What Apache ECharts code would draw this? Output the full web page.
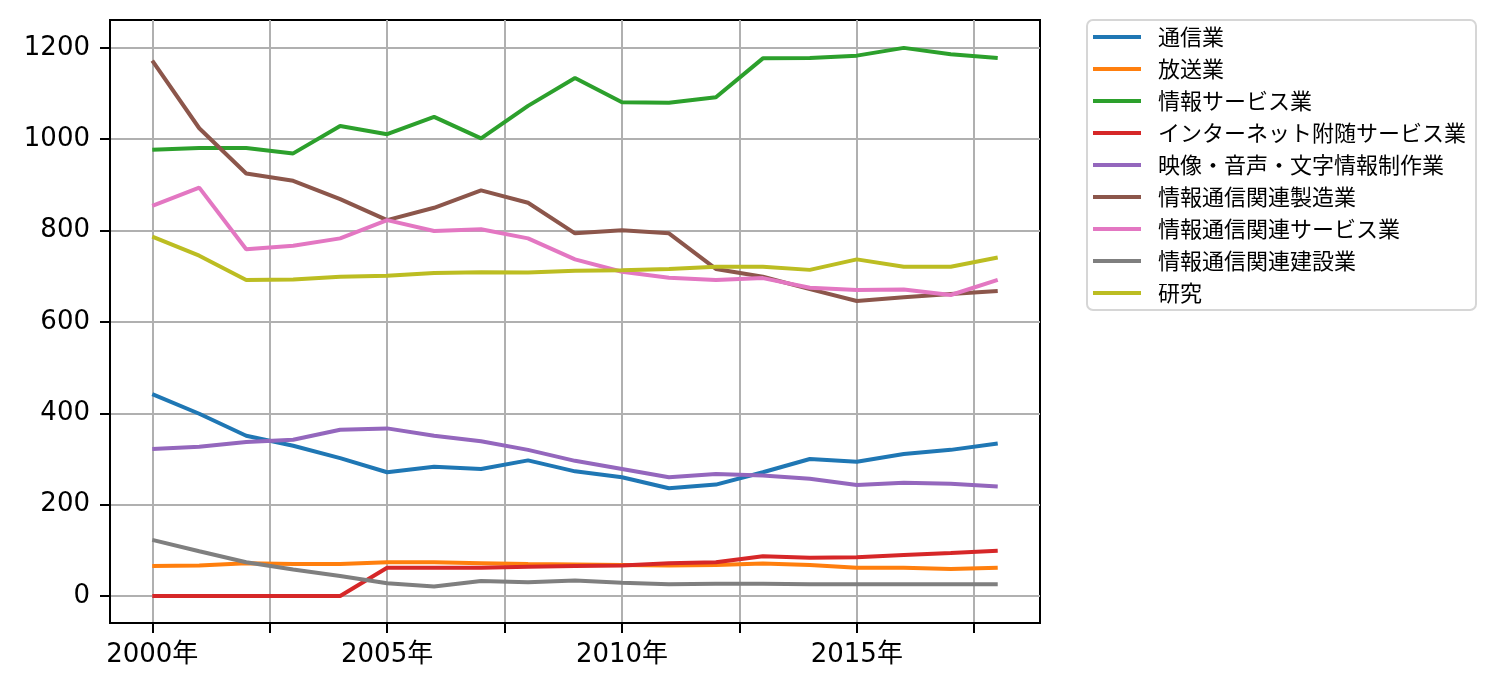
<!DOCTYPE html>
<html>
<head>
<meta charset="utf-8">
<script src="https://cdn.jsdelivr.net/npm/echarts@6/dist/echarts.min.js"></script>
<style>
  html, body { margin: 0; padding: 0; background: #fff; }
  #chart { width: 1497px; height: 689px; }
</style>
</head>
<body>
<div id="chart"></div>
<script>
// 年
var years = [2000, 2001, 2002, 2003, 2004, 2005, 2006, 2007, 2008, 2009,
             2010, 2011, 2012, 2013, 2014, 2015, 2016, 2017, 2018];

// 系列名
var names = ['通信業', '放送業', '情報サービス業', 'インターネット附随サービス業',
             '映像・音声・文字情報制作業', '情報通信関連製造業', '情報通信関連サービス業',
             '情報通信関連建設業', '研究'];

// 各系列の値
var tsushin   = [442, 399, 351, 329, 302, 271, 283, 278, 297, 273, 260, 236, 244, 271, 300, 294, 311, 320, 334];
var hoso      = [66, 67, 72, 70, 70, 74, 74, 72, 70, 69, 68, 67, 68, 71, 68, 62, 62, 59, 62];
var joho      = [977, 981, 981, 969, 1029, 1011, 1049, 1002, 1073, 1134, 1081, 1080, 1092, 1177, 1178, 1183, 1200, 1186, 1178];
var internet  = [0, 0, 0, 0, 0, 62, 62, 62, 64, 66, 67, 72, 74, 87, 84, 85, 90, 94, 99];
var eizo      = [322, 327, 337, 342, 364, 367, 351, 339, 320, 296, 278, 260, 267, 264, 257, 243, 248, 246, 240];
var seizo     = [1172, 1024, 925, 909, 869, 823, 850, 888, 861, 794, 801, 794, 716, 699, 672, 646, 654, 661, 668];
var service   = [854, 894, 759, 767, 783, 823, 799, 803, 783, 737, 710, 697, 692, 696, 675, 670, 671, 659, 692];
var kensetsu  = [123, 98, 74, 58, 44, 28, 21, 33, 30, 34, 29, 26, 27, 27, 26, 26, 26, 26, 26];
var kenkyu    = [787, 745, 692, 693, 699, 701, 707, 709, 708, 712, 713, 716, 721, 721, 714, 737, 721, 721, 741];

var seriesData = [tsushin, hoso, joho, internet, eizo, seizo, service, kensetsu, kenkyu];
var colors = ['#1f77b4', '#ff7f0e', '#2ca02c', '#d62728', '#9467bd',
              '#8c564b', '#e377c2', '#7f7f7f', '#bcbd22'];

// 目盛り
var xTicks = [2000, 2002.5, 2005, 2007.5, 2010, 2012.5, 2015, 2017.5];
var xLabels = [2000, 2005, 2010, 2015];
var yTicks = [0, 200, 400, 600, 800, 1000, 1200];

var FONT = '"DejaVu Sans", "Noto Sans CJK JP", sans-serif';
var LEGEND_FONT = '"Noto Sans CJK JP", sans-serif';

var chart = echarts.init(document.getElementById('chart'));

var series = names.map(function (n, i) {
    return {
        name: n,
        type: 'line',
        showSymbol: false,
        symbol: 'none',
        animation: false,
        lineStyle: { width: 4, color: colors[i] },
        itemStyle: { color: colors[i] },
        data: years.map(function (y, j) { return [y, seriesData[i][j]]; })
    };
});

var option = {
    backgroundColor: '#fff',
    animation: false,
    grid: {
        left: 110, top: 20, width: 930, height: 603,
        show: true, borderColor: '#000', borderWidth: 2,
        containLabel: false
    },
    legend: {
        orient: 'vertical',
        left: 1087, top: 20,
        padding: [6, 10, 6, 6],
        itemWidth: 48, itemHeight: 4,
        itemGap: 10,
        icon: 'rect',
        borderColor: '#d6d6d6', borderWidth: 2, borderRadius: 6,
        backgroundColor: '#fff',
        textStyle: { fontFamily: LEGEND_FONT, fontSize: 22, color: '#000', lineHeight: 22, padding: [0, 0, 0, 12] },
        data: names
    },
    xAxis: {
        type: 'value',
        min: 1999.1, max: 2018.9,
        axisLine: { show: true, onZero: false, lineStyle: { color: '#000', width: 2 } },
        axisTick: { show: true, customValues: xTicks, length: 10, lineStyle: { color: '#000', width: 2 } },
        axisLabel: {
            customValues: xLabels, margin: 19,
            fontFamily: FONT, fontSize: 26, color: '#000',
            formatter: function (v) { return v + '年'; }
        },
        splitLine: { show: true, lineStyle: { color: '#b0b0b0', width: 2 } }
    },
    yAxis: {
        type: 'value',
        min: -59, max: 1261,
        axisLine: { show: true, onZero: false, lineStyle: { color: '#000', width: 2 } },
        axisTick: { show: true, customValues: yTicks, length: 10, lineStyle: { color: '#000', width: 2 } },
        axisLabel: {
            customValues: yTicks, margin: 20,
            fontFamily: FONT, fontSize: 26, color: '#000',
            formatter: function (v) { return String(v); }
        },
        splitLine: { show: true, lineStyle: { color: '#b0b0b0', width: 2 } }
    },
    series: series
};

chart.setOption(option);
</script>
</body>
</html>
